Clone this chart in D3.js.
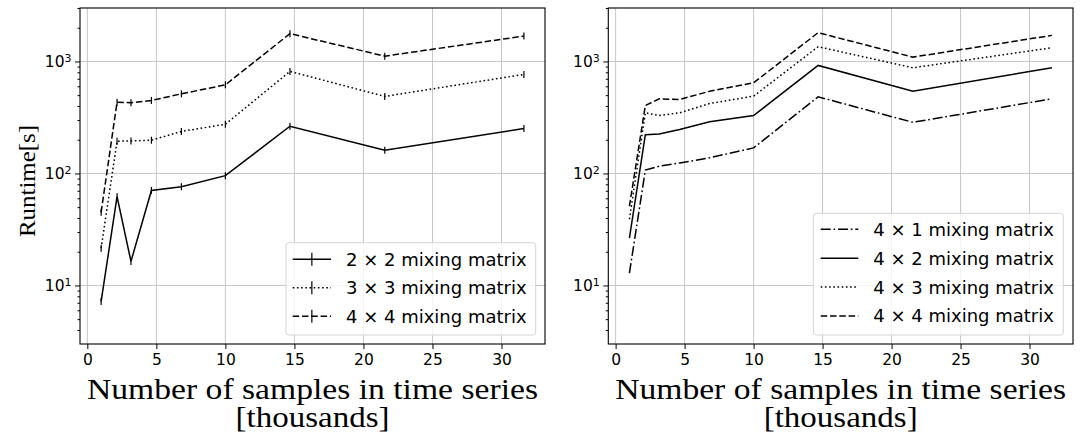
<!DOCTYPE html>
<html>
<head>
<meta charset="utf-8">
<script src="https://cdn.jsdelivr.net/npm/d3@7"></script>
<style>
    body { margin: 0; background: #fff; }
</style>
</head>
<body>
<div id="chart"></div>
<script>

// samples in time series, thousands
var samplesK = [1, 2.154, 3.162, 4.642, 6.813, 10, 14.678, 21.544, 31.623];

// left panel, square mixing matrices
var runtime2x2 = [7.2, 62, 16.4, 70.5, 76, 95.5, 264, 161, 252];
var runtime3x3 = [21.5, 194, 195, 198, 237, 275, 815, 487, 766];
var runtime4x4 = [45, 433, 427, 448, 514, 618, 1771, 1115, 1684];

// right panel, 4 x n mixing matrices
var runtime4x1 = [12.9, 107, 116, 124, 138, 169, 483, 286, 464];
var runtime4x2 = [26.5, 222, 225, 247, 289, 329, 921, 542, 878];
var runtime4x3 = [39, 348, 329, 348, 421, 490, 1353, 878, 1325];
var runtime4x4b = [51, 404, 464, 457, 542, 644, 1807, 1093, 1709];

var xTicks = [0, 5, 10, 15, 20, 25, 30];
var yTicks = [10, 100, 1000];
var yMinorTicks = [4, 5, 6, 7, 8, 9, 20, 30, 40, 50, 60, 70, 80, 90,
    200, 300, 400, 500, 600, 700, 800, 900, 2000, 3000];
var xLimits = [-0.53, 33.15];
var yLimits = [3, 3000];

var leftLabels = ["2 \u00d7 2 mixing matrix", "3 \u00d7 3 mixing matrix", "4 \u00d7 4 mixing matrix"];
var rightLabels = ["4 \u00d7 1 mixing matrix", "4 \u00d7 2 mixing matrix", "4 \u00d7 3 mixing matrix", "4 \u00d7 4 mixing matrix"];


var width = 1080;
var height = 439;

var DASH = {
    solid: null,
    dotted: "1.6,2.6",
    dashed: "6.5,2.8",
    dashdot: "10,2.8,1.7,2.8"
};

var tickFont = "'DejaVu Sans', sans-serif";
var labelFont = "'Liberation Serif', 'Times New Roman', serif";

var svg = d3.select("#chart").append("svg")
    .attr("width", width)
    .attr("height", height)

svg.append("rect").attr("width", width).attr("height", height).attr("fill", "#fff")


function drawPanel(p) {

    var x = d3.scaleLinear().domain(xLimits).range([p.left, p.right]);
    var y = d3.scaleLog().domain(yLimits).range([p.bottom, p.top]);

    var g = svg.append("g");

    // grid
    g.selectAll(".gridx").data(xTicks).enter().append("line")
        .attr("x1", d => x(d)).attr("x2", d => x(d))
        .attr("y1", p.top).attr("y2", p.bottom)
        .attr("stroke", "#c6c6c6").attr("stroke-width", 1)

    g.selectAll(".gridy").data(yTicks).enter().append("line")
        .attr("x1", p.left).attr("x2", p.right)
        .attr("y1", d => y(d)).attr("y2", d => y(d))
        .attr("stroke", "#c6c6c6").attr("stroke-width", 1)


    var line = d3.line()
        .x((d, i) => x(samplesK[i]))
        .y(d => y(d))

    p.series.forEach(function (s) {
        g.append("path")
            .datum(s.values)
            .attr("d", line)
            .attr("fill", "none")
            .attr("stroke", "#000")
            .attr("stroke-width", 1.5)
            .attr("stroke-dasharray", DASH[s.style])

        if (p.errorbars) {
            g.selectAll(null).data(s.values).enter().append("line")
                .attr("x1", (d, i) => x(samplesK[i])).attr("x2", (d, i) => x(samplesK[i]))
                .attr("y1", d => y(d) - 3.5).attr("y2", d => y(d) + 3.5)
                .attr("stroke", "#000").attr("stroke-width", 1.2)
        }
    });


    // axes
    var xAxis = d3.axisBottom(x).tickValues(xTicks).tickSize(5).tickPadding(5).tickFormat(d3.format("d"));
    var xg = g.append("g").attr("transform", "translate(0," + p.bottom + ")").call(xAxis);
    xg.select(".domain").remove();
    xg.selectAll("text").attr("font-family", tickFont).attr("font-size", 15.5).attr("fill", "#000");

    var yMinor = d3.axisLeft(y).tickValues(yMinorTicks).tickSize(2.5).tickFormat("");
    var ymg = g.append("g").attr("transform", "translate(" + p.left + ",0)").call(yMinor);
    ymg.select(".domain").remove();

    var yAxis = d3.axisLeft(y).tickValues(yTicks).tickSize(5).tickPadding(3.5).tickFormat("");
    var yg = g.append("g").attr("transform", "translate(" + p.left + ",0)").call(yAxis);
    yg.select(".domain").remove();
    yg.selectAll(".tick text")
        .attr("font-family", tickFont).attr("font-size", 15.5).attr("fill", "#000")
        .each(function (d) {
            var t = d3.select(this);
            t.text("10");
            t.append("tspan").attr("dy", "-0.45em").attr("font-size", 11)
                .text(Math.round(Math.log10(d)));
        })


    // spines
    g.append("rect")
        .attr("x", p.left).attr("y", p.top)
        .attr("width", p.right - p.left).attr("height", p.bottom - p.top)
        .attr("fill", "none").attr("stroke", "#000").attr("stroke-width", 1.1)


    // legend
    var L = p.legend;
    var lg = g.append("g");
    lg.append("rect")
        .attr("x", L.x0).attr("y", L.y0)
        .attr("width", L.x1 - L.x0).attr("height", L.y1 - L.y0)
        .attr("rx", 3)
        .attr("fill", "#fff").attr("fill-opacity", 0.8)
        .attr("stroke", "#d4d4d4").attr("stroke-width", 1)

    p.series.forEach(function (s, i) {
        var ry = L.row0 + i * L.rowStep;
        lg.append("line")
            .attr("x1", L.hx0).attr("x2", L.hx1).attr("y1", ry).attr("y2", ry)
            .attr("stroke", "#000").attr("stroke-width", 1.5)
            .attr("stroke-dasharray", DASH[s.style])
        if (p.errorbars) {
            var cx = (L.hx0 + L.hx1) / 2;
            lg.append("line")
                .attr("x1", cx).attr("x2", cx).attr("y1", ry - 6.5).attr("y2", ry + 6.5)
                .attr("stroke", "#000").attr("stroke-width", 1.2)
        }
        lg.append("text")
            .attr("x", L.tx).attr("y", ry).attr("dy", "0.36em")
            .attr("font-family", tickFont).attr("font-size", 18)
            .text(s.label)
    });


    // axis labels
    var cxm = (p.left + p.right) / 2;
    g.append("text")
        .attr("x", cxm).attr("y", 399).attr("text-anchor", "middle")
        .attr("font-family", labelFont).attr("font-size", 29)
        .attr("textLength", 451).attr("lengthAdjust", "spacingAndGlyphs")
        .text("Number of samples in time series")
    g.append("text")
        .attr("x", cxm).attr("y", 427).attr("text-anchor", "middle")
        .attr("font-family", labelFont).attr("font-size", 29)
        .attr("textLength", 154).attr("lengthAdjust", "spacingAndGlyphs")
        .text("[thousands]")

    if (p.ylabel) {
        g.append("text")
            .attr("transform", "translate(34.5,181) rotate(-90)")
            .attr("text-anchor", "middle")
            .attr("font-family", labelFont).attr("font-size", 23.5)
            .attr("textLength", 112).attr("lengthAdjust", "spacingAndGlyphs")
            .text(p.ylabel)
    }
}


drawPanel({
    left: 80, right: 545, top: 8, bottom: 344,
    errorbars: true,
    ylabel: "Runtime[s]",
    series: [
        { values: runtime2x2, style: "solid", label: leftLabels[0] },
        { values: runtime3x3, style: "dotted", label: leftLabels[1] },
        { values: runtime4x4, style: "dashed", label: leftLabels[2] }
    ],
    legend: { x0: 286, x1: 535.7, y0: 242.7, y1: 335, row0: 259.3, rowStep: 28.5, hx0: 292.7, hx1: 331, tx: 346 }
});

drawPanel({
    left: 608.3, right: 1073, top: 8, bottom: 344,
    errorbars: false,
    series: [
        { values: runtime4x1, style: "dashdot", label: rightLabels[0] },
        { values: runtime4x2, style: "solid", label: rightLabels[1] },
        { values: runtime4x3, style: "dotted", label: rightLabels[2] },
        { values: runtime4x4b, style: "dashed", label: rightLabels[3] }
    ],
    legend: { x0: 813.3, x1: 1063.3, y0: 213.3, y1: 335, row0: 229.3, rowStep: 28.9, hx0: 820.7, hx1: 858.3, tx: 873.3 }
});

</script>
</body>
</html>
